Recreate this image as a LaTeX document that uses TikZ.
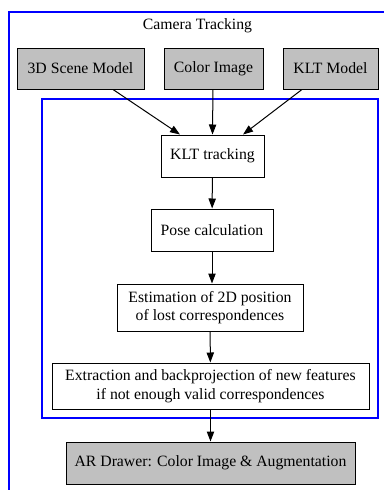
\documentclass[tikz,border=0pt]{standalone}
\usepackage{fontspec}
\setmainfont{Liberation Serif}
\usepackage{tikz}
\usetikzlibrary{arrows.meta}
\tikzstyle{canvas} = [x = .75pt, y = -.75pt, every node/.style={font=\fontsize{11.8}{14}\selectfont}]
\definecolor{frameColor}{RGB}{0,0,255}
\definecolor{dataColor}{RGB}{192,192,192}
\tikzstyle{frameLine} = [color=frameColor, line width=1.5pt]
\tikzstyle{whiteBox} = [draw=black, fill=white, line width=.75pt, align=center, inner sep=2pt]
\tikzstyle{grayBox} = [whiteBox, fill=dataColor]
\tikzstyle{flowArrow} = [draw=black, line width=.75pt, -{Triangle[length=7.5pt, width=5.5pt]}]

\begin{document}
\begin{tikzpicture}[canvas]
      \useasboundingbox (0,0) rectangle (384,490);
      \clip (0,0) rectangle (384,490);

      % clusters
      \draw [frameLine] (8.5,12) rectangle (420,520);
      \node (title) at (197.5,26) {Camera Tracking};
      \draw [frameLine] (42,99) rectangle (378,418);

      % inputs
      \node [grayBox, minimum width=95.25pt, minimum height=30.75pt] (scene) at (80.5,68.5) {3D Scene Model};
      \node [grayBox, minimum width=74.25pt, minimum height=30.75pt] (image) at (213.5,68.5) {Color Image};
      \node [grayBox, minimum width=71.25pt, minimum height=30.75pt] (model) at (330.5,68.5) {KLT Model};

      % tracking steps
      \node [whiteBox, minimum width=77.25pt, minimum height=31.5pt] (klt) at (212.5,156) {KLT tracking};
      \node [whiteBox, minimum width=91.5pt, minimum height=31.5pt] (pose) at (212,230) {Pose calculation};
      \node [whiteBox, minimum width=139.5pt, minimum height=35.25pt] (estim) at (210,307.5) {Estimation of 2D position\\of lost correspondences};
      \node [whiteBox, minimum width=237.75pt, minimum height=34.5pt] (extract) at (210.5,386) {Extraction and backprojection of new features\\if not enough valid correspondences};

      % output
      \node [grayBox, minimum width=216.75pt, minimum height=31.5pt] (drawer) at (210.5,463) {AR Drawer: Color Image \& Augmentation};

      \draw [flowArrow] ([xshift=24.4pt]scene.south) -- ([xshift=-24.4pt]klt.north);
      \draw [flowArrow] ([xshift=-.4pt]image.south) -- (klt.north);
      \draw [flowArrow] ([xshift=-21.4pt]model.south) -- ([xshift=22.9pt]klt.north);
      \draw [flowArrow] (klt) -- (pose);
      \draw [flowArrow] (pose.south) -- (pose.south |- estim.north);
      \draw [flowArrow] (estim) -- (extract);
      \draw [flowArrow] (extract) -- (drawer);
    \end{tikzpicture}
\end{document}
